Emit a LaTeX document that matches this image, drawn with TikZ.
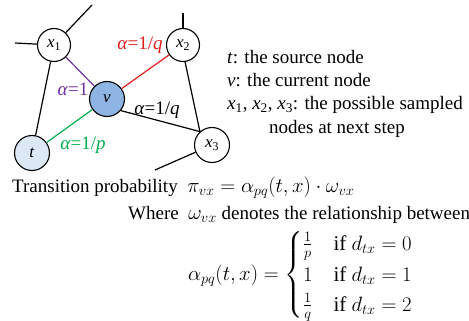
\documentclass[tikz,border=0pt]{standalone}
\usepackage{amsmath}
\usepackage{fontspec}
\setmainfont{Liberation Serif}
\definecolor{vblue}{RGB}{141,180,226}
\definecolor{tblue}{RGB}{220,232,246}
\definecolor{epurple}{RGB}{112,48,160}
\definecolor{ered}{RGB}{224,30,30}
\definecolor{egreen}{RGB}{0,176,80}
\newcommand{\mathsz}[1]{{\fontsize{20}{24}\selectfont #1}}
\begin{document}
\begin{tikzpicture}[x=1pt,y=-1pt,
  gnode/.style={circle, draw, line width=1.1pt, inner sep=0pt, minimum size=33pt, fill=white, font=\fontsize{17}{17}\selectfont},
  edge/.style={line width=1.2pt},
  lab/.style={inner sep=0pt, font=\fontsize{19}{19}\selectfont},
  txt/.style={inner sep=0pt, font=\fontsize{19}{23}\selectfont},
  eqn/.style={inner sep=0pt, font=\fontsize{21}{25}\selectfont},
]
\useasboundingbox (0,0) rectangle (469,321);
% nodes
\node[gnode] (x1) at (54,45) {\textit{x}\textsubscript{1}};
\node[gnode] (x2) at (183,45) {\textit{x}\textsubscript{2}};
\node[gnode, fill=vblue, minimum size=35pt] (v) at (107,99) {\textit{v}};
\node[gnode, fill=tblue, minimum size=35pt] (t) at (32,153) {\textit{t}};
\node[gnode, minimum size=35pt] (x3) at (212,145) {\textit{x}\textsubscript{3}};
% stub ends
\coordinate (s1) at (92,5);
\coordinate (s2) at (15,43);
\coordinate (s3) at (183,13);
\coordinate (s4) at (155,170);
% edges
\draw[edge] (x1) -- (t);
\draw[edge, epurple] (x1) -- (v);
\draw[edge, ered] (x2) -- (v);
\draw[edge] (v.-40) -- (x3.132);
\draw[edge] (x2.-83) -- (x3.132);
\draw[edge, egreen] (t) -- (v);
\draw[edge] (x1) -- (s1);
\draw[edge] (x1) -- (s2);
\draw[edge] (x2) -- (s3);
\draw[edge] (x3) -- (s4);
% edge labels
\node[lab, text=epurple] (la) at (73,89) {\textit{α}=1};
\node[lab, text=ered] (lb) at (140,45) {\textit{α}=1/\textit{q}};
\node[lab] (lc) at (157,110) {\textit{α}=1/\textit{q}};
\node[lab, text=egreen] (ld) at (83,145) {\textit{α}=1/\textit{p}};
% legend
\node[txt, anchor=base west] (l1) at (227,64) {\textit{t}: the source node};
\node[txt, anchor=base west] (l2) at (227,87) {\textit{v}: the current node};
\node[txt, anchor=base west] (l3) at (227,110) {\textit{x}\textsubscript{1}, \textit{x}\textsubscript{2}, \textit{x}\textsubscript{3}: the possible sampled};
\node[txt, anchor=base west] (l4) at (269,133) {nodes at next step};
% formulas
\node[txt, anchor=base west] (f1) at (12,192) {Transition probability \ \mathsz{$\pi_{vx} = \alpha_{pq}(t,x)\cdot\omega_{vx}$}};
\node[txt, anchor=base west] (f2) at (128,219) {Where \ \mathsz{$\omega_{vx}$} denotes the relationship between};
\node[eqn, anchor=west] (f3) at (188,275) {$\alpha_{pq}(t,x) = \begin{cases} \frac{1}{p} & \text{if } d_{tx}=0\\ 1 & \text{if } d_{tx}=1\\ \frac{1}{q} & \text{if } d_{tx}=2\end{cases}$};
\end{tikzpicture}
\end{document}
